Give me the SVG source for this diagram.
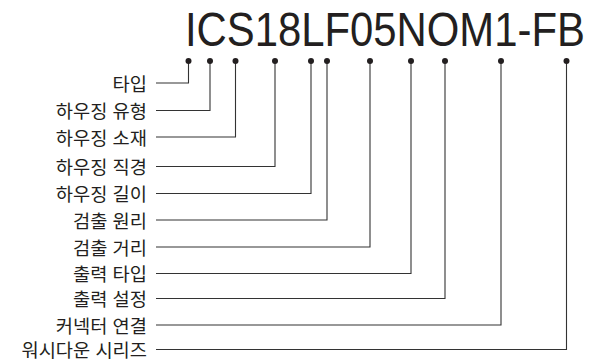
<svg xmlns="http://www.w3.org/2000/svg" width="596" height="363" viewBox="0 0 596 363">
<style>
.lbl{font-family:"Liberation Sans","Noto Sans CJK KR",sans-serif;font-size:18.7px;fill:#231f20;text-anchor:end}
.title{font-family:"Liberation Sans","Noto Sans",sans-serif;font-size:48px;fill:#231f20}
.conn path{fill:none;stroke:#333;stroke-width:1.1}
.conn circle{fill:#231f20}
</style>
<rect width="596" height="363" fill="#fff"/>
<g id="title"><text class="title" transform="translate(185,45.5) scale(0.8717,1)" x="0" y="0">ICS18LF05NOM1-FB</text></g>
<g class="conn" id="connectors">
<path d="M156 83H188.5V61"/><circle cx="188.5" cy="61" r="3"/>
<path d="M156 110.5H210V61"/><circle cx="210" cy="61" r="3"/>
<path d="M156 137H235.5V61"/><circle cx="235.5" cy="61" r="3"/>
<path d="M156 166.5H275V61"/><circle cx="275" cy="61" r="3"/>
<path d="M156 193.5H311V61"/><circle cx="311" cy="61" r="3"/>
<path d="M156 220H327V61"/><circle cx="327" cy="61" r="3"/>
<path d="M156 247H370V61"/><circle cx="370" cy="61" r="3"/>
<path d="M156 273.5H411V61"/><circle cx="411" cy="61" r="3"/>
<path d="M156 298.5H445V61"/><circle cx="445" cy="61" r="3"/>
<path d="M156 325H501V61"/><circle cx="501" cy="61" r="3"/>
<path d="M156 349.5H566.5V61"/><circle cx="566.5" cy="61" r="3"/>
</g>
<g id="n1"><text class="lbl" x="147" y="90.5">타입</text></g>
<g id="n2"><text class="lbl" x="147" y="118">하우징 유형</text></g>
<g id="n3"><text class="lbl" x="147" y="144.5">하우징 소재</text></g>
<g id="n4"><text class="lbl" x="147" y="174">하우징 직경</text></g>
<g id="n5"><text class="lbl" x="147" y="201">하우징 길이</text></g>
<g id="n6"><text class="lbl" x="147" y="227.5">검출 원리</text></g>
<g id="n7"><text class="lbl" x="147" y="254.5">검출 거리</text></g>
<g id="n8"><text class="lbl" x="147" y="281">출력 타입</text></g>
<g id="n9"><text class="lbl" x="147" y="306">출력 설정</text></g>
<g id="n10"><text class="lbl" x="147" y="332.5">커넥터 연결</text></g>
<g id="n11"><text class="lbl" x="147" y="357">워시다운 시리즈</text></g>
</svg>
